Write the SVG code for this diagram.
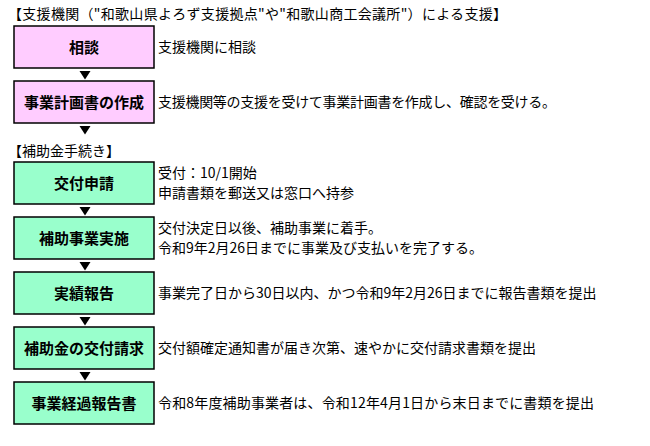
<svg xmlns="http://www.w3.org/2000/svg" width="650" height="446" viewBox="0 0 650 446">
<style>
.bp{fill:#FFCCFF;stroke:#000;stroke-width:1.5}
.bg{fill:#99FFCC;stroke:#000;stroke-width:1.5}
.lb{font-family:"Noto Sans CJK JP","Noto Sans",sans-serif;font-size:15px;font-weight:bold;fill:#000;text-anchor:middle}
.tx{font-family:"Noto Sans CJK JP","Noto Sans",sans-serif;font-size:14px;fill:#000}
.ar{fill:#000}
</style>
<rect width="650" height="446" fill="#fff"/>
<text class="tx" x="8" y="18.5" textLength="499" lengthAdjust="spacing">【支援機関（"和歌山県よろず支援拠点"や"和歌山商工会議所"）による支援】</text>
<text class="tx" x="8" y="155.5">【補助金手続き】</text>
<g id="n1"><rect class="bp" x="14" y="26" width="140" height="42"/><text class="lb" x="84" y="52.5">相談</text><text class="tx" x="158" y="52">支援機関に相談</text></g>
<g id="n2"><rect class="bp" x="14" y="81" width="140" height="42"/><text class="lb" x="84" y="107.5">事業計画書の作成</text><text class="tx" x="158" y="107" textLength="398" lengthAdjust="spacing">支援機関等の支援を受けて事業計画書を作成し、確認を受ける。</text></g>
<g id="n3"><rect class="bg" x="14" y="162" width="140" height="42"/><text class="lb" x="84" y="188.5">交付申請</text><text class="tx" x="158" y="178">受付：10/1開始</text><text class="tx" x="158" y="198">申請書類を郵送又は窓口へ持参</text></g>
<g id="n4"><rect class="bg" x="14" y="217" width="140" height="42"/><text class="lb" x="84" y="243.5">補助事業実施</text><text class="tx" x="158" y="233">交付決定日以後、補助事業に着手。</text><text class="tx" x="158" y="253">令和9年2月26日までに事業及び支払いを完了する。</text></g>
<g id="n5"><rect class="bg" x="14" y="272" width="140" height="42"/><text class="lb" x="84" y="298.5">実績報告</text><text class="tx" x="158" y="298">事業完了日から30日以内、かつ令和9年2月26日までに報告書類を提出</text></g>
<g id="n6"><rect class="bg" x="14" y="327" width="140" height="42"/><text class="lb" x="84" y="353.5">補助金の交付請求</text><text class="tx" x="158" y="353">交付額確定通知書が届き次第、速やかに交付請求書類を提出</text></g>
<g id="n7"><rect class="bg" x="14" y="382" width="140" height="42"/><text class="lb" x="84" y="408.5">事業経過報告書</text><text class="tx" x="158" y="408" textLength="436" lengthAdjust="spacing">令和8年度補助事業者は、令和12年4月1日から末日までに書類を提出</text></g>
<g id="connectors">
<polygon class="ar" points="79.5,71 90.5,71 85,79.5"/>
<polygon class="ar" points="79.5,126 90.5,126 85,134.5"/>
<polygon class="ar" points="79.5,207 90.5,207 85,215.5"/>
<polygon class="ar" points="79.5,262 90.5,262 85,270.5"/>
<polygon class="ar" points="79.5,317 90.5,317 85,325.5"/>
<polygon class="ar" points="79.5,372 90.5,372 85,380.5"/>
</g>
</svg>
